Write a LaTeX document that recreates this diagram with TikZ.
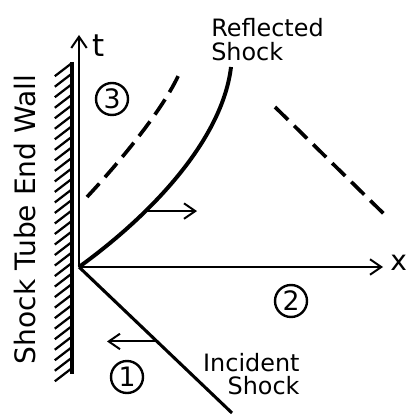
\documentclass[tikz,border=0pt]{standalone}
\usepackage{fontspec}
\setmainfont{DejaVu Sans}
\usepackage{tikz}
\usetikzlibrary{positioning, calc, arrows.meta}

\begin{document}
\begin{tikzpicture}[
        axis/.style={line width=1.4pt, -{Straight Barb[length=8pt, width=11pt, line width=1.4pt]}},
        motion/.style={line width=1.4pt, -{Straight Barb[length=8pt, width=11pt, line width=1.4pt]}},
        shock/.style={line width=2.8pt},
        incshock/.style={line width=2.2pt},
        wave/.style={line width=2.6pt, dash pattern=on 13pt off 6pt},
        wall/.style={line width=2.6pt},
        hatch/.style={line width=1.6pt},
        region/.style={draw, circle, line width=1.7pt, minimum size=0.8cm, inner sep=0pt, font=\fontsize{19}{19}\selectfont},
        lbl/.style={inner sep=0pt, font=\fontsize{22}{22}\selectfont},
        shocklbl/.style={inner sep=0pt, font=\fontsize{17}{17}\selectfont}
    ]

    % Frame of the picture
    \useasboundingbox (-1.975,-3.7) rectangle (8.2,6.675);

    % Origin and axes
    \coordinate (O) at (0,0);
    \coordinate (tend) at (0,5.8);
    \coordinate (xend) at (7.6,0);
    \draw[axis] (O) -- (tend);
    \draw[axis] (O) -- (xend);
    \node[lbl, anchor=base west] (tlab) at (0.32,5.25) {t};
    \node[lbl, font=\fontsize{20}{20}\selectfont, anchor=base west] (xlab) at (7.78,-0.1) {x};

    % End wall with hatching
    \coordinate (walltop) at (-0.175,5.125);
    \coordinate (wallbot) at (-0.175,-2.675);
    \draw[wall] (walltop) -- (wallbot);
    \foreach \i in {0,...,29} {
        \draw[hatch] ($(-0.175,5.1) + (0,-0.263*\i)$) -- ++(-0.43,-0.33);
    }
    \node[rotate=90, anchor=base, inner sep=0pt, font=\fontsize{20}{20}\selectfont] (walllab) at (-1.09,1.19) {Shock Tube End Wall};

    % Incident shock
    \coordinate (incend) at (3.825,-3.65);
    \draw[incshock] (O) -- (incend);
    \path (O) -- (incend) coordinate[pos=0.51] (incarr);
    \coordinate (incarrend) at (0.7,0 |- incarr);
    \draw[motion] (incarr) -- (incarrend);
    \node[shocklbl, align=right, anchor=north east] (inclab) at (5.52,-2.14) {Incident\\Shock};

    % Reflected shock
    \coordinate (refend) at (3.8,5.0);
    \draw[shock] (O) .. controls (2.0,1.45) and (3.6,3.3) .. (refend)
        coordinate[pos=0.3] (refarr);
    \coordinate (refarrend) at (2.95,0 |- refarr);
    \draw[motion] (refarr) -- (refarrend);
    \node[shocklbl, align=left, anchor=north west] (reflab) at (3.3,6.22) {Reflected\\Shock};

    % Dashed waves
    \coordinate (wavea1) at (0.2,1.75);
    \coordinate (wavea2) at (2.525,4.875);
    \draw[wave] (wavea1) .. controls (0.9,2.5) and (2.1,3.9) .. (wavea2);
    \coordinate (waveb1) at (4.9,4.0);
    \coordinate (waveb2) at (7.65,1.3);
    \draw[wave] (waveb1) -- (waveb2);

    % Regions
    \node[region] (reg1) at (1.2,-2.75) {1};
    \node[region] (reg2) at (5.3,-0.85) {2};
    \node[region] (reg3) at (0.825,4.2) {3};

\end{tikzpicture}
\end{document}
